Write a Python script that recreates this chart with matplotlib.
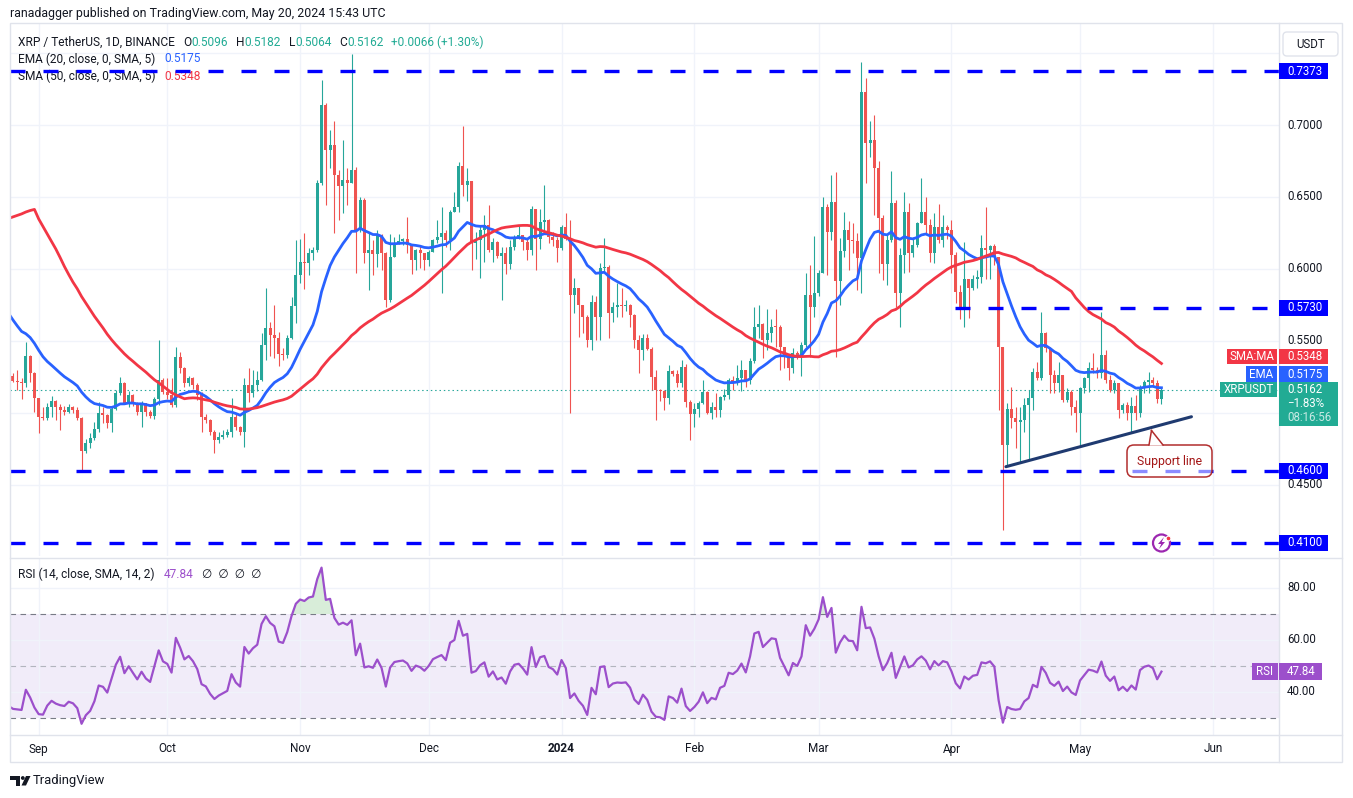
import numpy as np
import pandas as pd
import matplotlib
matplotlib.use("Agg")
import matplotlib.pyplot as plt
import matplotlib.dates as mdates
import matplotlib.transforms as mtransforms
from matplotlib.patches import Rectangle, Polygon, Circle, FancyBboxPatch

plt.rcParams['font.family'] = ['Roboto', 'DejaVu Sans']

W, H = 1353, 798
DARK = '#131722'
UP, DOWN = '#26A69A', '#EF5350'
EMA_C, SMA_C, RSI_C = '#2962FF', '#F23645', '#9C4FCB'
LEVEL_C = '#0000FF'
GRID = '#F0F3FA'
FRAME = '#E0E3EB'

# ---- data (XRP/USDT daily) ----
start_day = "2023-08-26"
first_open = 0.5258
closes = [
    0.5225, 0.5215, 0.5205, 0.5396, 0.5276, 0.5102, 0.4974, 0.4965, 0.5044, 0.5086,
    0.5044, 0.5021, 0.5010, 0.5040, 0.5021, 0.4963, 0.4739, 0.4795, 0.4823, 0.4886,
    0.4998, 0.4985, 0.4928, 0.5025, 0.5137, 0.5206, 0.5067, 0.5125, 0.5067, 0.5009,
    0.5067, 0.5009, 0.4979, 0.5095, 0.5230, 0.5145, 0.5125, 0.5055, 0.5391, 0.5310,
    0.5206, 0.5240, 0.5195, 0.5125, 0.4975, 0.4951, 0.4870, 0.4812, 0.4835, 0.4850,
    0.4865, 0.4975, 0.4905, 0.4870, 0.5195, 0.5142, 0.5195, 0.5230, 0.5475, 0.5590,
    0.5543, 0.5520, 0.5410, 0.5400, 0.5520, 0.5740, 0.5960, 0.6050, 0.6040, 0.6110,
    0.6130, 0.6595, 0.7138, 0.6826, 0.6860, 0.6653, 0.6575, 0.6618, 0.6595, 0.6687,
    0.6271, 0.6480, 0.6110, 0.6130, 0.6105, 0.6235, 0.6110, 0.5785, 0.6085, 0.6180,
    0.6195, 0.6205, 0.6165, 0.6060, 0.6130, 0.6110, 0.6065, 0.6120, 0.6200, 0.6225,
    0.6247, 0.6200, 0.6398, 0.6433, 0.6715, 0.6583, 0.6610, 0.6180, 0.6200, 0.6270,
    0.6305, 0.6132, 0.6190, 0.6090, 0.6110, 0.6035, 0.6155, 0.6225, 0.6235, 0.6190,
    0.6130, 0.6415, 0.6210, 0.6325, 0.6340, 0.6225, 0.6201, 0.6145, 0.6290, 0.6210,
    0.5820, 0.5865, 0.5750, 0.5670, 0.5507, 0.5773, 0.5670, 0.6005, 0.6015, 0.5692,
    0.5738, 0.5750, 0.5745, 0.5750, 0.5680, 0.5507, 0.5437, 0.5520, 0.5445, 0.5253,
    0.5160, 0.5150, 0.5105, 0.5293, 0.5270, 0.5206, 0.5322, 0.5074, 0.4993, 0.5025,
    0.5067, 0.5143, 0.4998, 0.5040, 0.5021, 0.5110, 0.5125, 0.5230, 0.5218, 0.5245,
    0.5300, 0.5230, 0.5360, 0.5600, 0.5620, 0.5507, 0.5553, 0.5600, 0.5595, 0.5460,
    0.5391, 0.5315, 0.5415, 0.5391, 0.5470, 0.5820, 0.5738, 0.5830, 0.5970, 0.6433,
    0.6255, 0.6463, 0.5920, 0.6125, 0.6270, 0.6201, 0.6195, 0.6075, 0.7232, 0.6873,
    0.6896, 0.6700, 0.6352, 0.6035, 0.6201, 0.6456, 0.5831, 0.6099, 0.6398, 0.6110,
    0.6166, 0.6317, 0.6398, 0.6305, 0.6110, 0.6294, 0.6201, 0.6294, 0.6270, 0.6097,
    0.5843, 0.5727, 0.5928, 0.5866, 0.5928, 0.5942, 0.6144, 0.6130, 0.6160, 0.6086,
    0.5461, 0.4778, 0.5026, 0.4963, 0.4940, 0.4951, 0.5056, 0.5102, 0.5288, 0.5241,
    0.5553, 0.5449, 0.5264, 0.5206, 0.5264, 0.5091, 0.5149, 0.5044, 0.4998, 0.5172,
    0.5241, 0.5311, 0.5299, 0.5276, 0.5403, 0.5230, 0.5160, 0.5206, 0.5021, 0.5056,
    0.4998, 0.5049, 0.4998, 0.5183, 0.5218, 0.5230, 0.5206, 0.5096, 0.5162,
]
highs = [
    0.5280, 0.5300, 0.5240, 0.5495, 0.5400, 0.5285, 0.5105, 0.5044, 0.5067, 0.5120,
    0.5090, 0.5060, 0.5050, 0.5060, 0.5050, 0.5040, 0.4970, 0.4820, 0.4860, 0.4935,
    0.5075, 0.5044, 0.4990, 0.5040, 0.5160, 0.5250, 0.5215, 0.5150, 0.5130, 0.5075,
    0.5085, 0.5070, 0.5020, 0.5110, 0.5507, 0.5240, 0.5240, 0.5240, 0.5460, 0.5425,
    0.5320, 0.5260, 0.5250, 0.5210, 0.5145, 0.4995, 0.4960, 0.4880, 0.4870, 0.4880,
    0.4890, 0.5102, 0.4990, 0.4910, 0.5240, 0.5310, 0.5300, 0.5290, 0.5553, 0.5865,
    0.5635, 0.5750, 0.5565, 0.5450, 0.5540, 0.5808, 0.6200, 0.6210, 0.6250, 0.6145,
    0.6155, 0.6620, 0.7312, 0.7150, 0.6965, 0.7030, 0.6690, 0.6896, 0.6700, 0.7495,
    0.6710, 0.6500, 0.6490, 0.6250, 0.6200, 0.6270, 0.6245, 0.6115, 0.6240, 0.6225,
    0.6245, 0.6215, 0.6360, 0.6175, 0.6140, 0.6165, 0.6090, 0.6130, 0.6210, 0.6340,
    0.6433, 0.6270, 0.6410, 0.6537, 0.6745, 0.6995, 0.6700, 0.6600, 0.6260, 0.6305,
    0.6375, 0.6445, 0.6215, 0.6195, 0.6155, 0.6155, 0.6200, 0.6235, 0.6305, 0.6235,
    0.6210, 0.6440, 0.6420, 0.6420, 0.6584, 0.6350, 0.6260, 0.6225, 0.6305, 0.6386,
    0.6340, 0.5935, 0.5870, 0.5750, 0.5680, 0.5820, 0.5810, 0.6040, 0.6213, 0.6030,
    0.5770, 0.5900, 0.5865, 0.5785, 0.5755, 0.5690, 0.5540, 0.5550, 0.5550, 0.5460,
    0.5300, 0.5165, 0.5160, 0.5335, 0.5300, 0.5300, 0.5368, 0.5340, 0.5090, 0.5070,
    0.5085, 0.5230, 0.5150, 0.5075, 0.5140, 0.5115, 0.5170, 0.5240, 0.5255, 0.5330,
    0.5368, 0.5300, 0.5380, 0.5738, 0.5750, 0.5625, 0.5725, 0.5650, 0.5725, 0.5610,
    0.5450, 0.5410, 0.5450, 0.5430, 0.5490, 0.5970, 0.6030, 0.6230, 0.5990, 0.6500,
    0.6450, 0.6653, 0.6676, 0.6213, 0.6398, 0.6330, 0.6317, 0.6250, 0.7440, 0.7325,
    0.7030, 0.7070, 0.6747, 0.6375, 0.6235, 0.6680, 0.6480, 0.6145, 0.6537, 0.6456,
    0.6224, 0.6328, 0.6630, 0.6503, 0.6350, 0.6386, 0.6449, 0.6375, 0.6305, 0.6340,
    0.6120, 0.5890, 0.6190, 0.5915, 0.5955, 0.5990, 0.6235, 0.6433, 0.6170, 0.6175,
    0.6080, 0.5450, 0.5067, 0.5183, 0.5044, 0.5044, 0.5102, 0.5160, 0.5311, 0.5357,
    0.5704, 0.5565, 0.5461, 0.5299, 0.5357, 0.5264, 0.5172, 0.5160, 0.5091, 0.5183,
    0.5253, 0.5357, 0.5415, 0.5322, 0.5704, 0.5438, 0.5264, 0.5230, 0.5206, 0.5067,
    0.5079, 0.5114, 0.5125, 0.5195, 0.5230, 0.5288, 0.5253, 0.5230, 0.5182,
]
lows = [
    0.5215, 0.5160, 0.5100, 0.5180, 0.5218, 0.5005, 0.4860, 0.4951, 0.4951, 0.4975,
    0.4950, 0.4880, 0.4985, 0.5000, 0.5000, 0.4950, 0.4593, 0.4720, 0.4755, 0.4810,
    0.4870, 0.4928, 0.4895, 0.4865, 0.5020, 0.5125, 0.5060, 0.5040, 0.5050, 0.4985,
    0.4906, 0.4980, 0.4965, 0.4955, 0.5055, 0.5130, 0.5100, 0.5040, 0.5040, 0.5280,
    0.5180, 0.5190, 0.5170, 0.5090, 0.4870, 0.4930, 0.4850, 0.4720, 0.4790, 0.4820,
    0.4830, 0.4830, 0.4880, 0.4850, 0.4765, 0.5075, 0.5110, 0.5155, 0.5220, 0.5365,
    0.5395, 0.5380, 0.5325, 0.5370, 0.5380, 0.5515, 0.5625, 0.5900, 0.5860, 0.5960,
    0.6060, 0.6120, 0.6580, 0.6445, 0.6700, 0.6248, 0.6340, 0.6387, 0.6445, 0.6595,
    0.5970, 0.6260, 0.6040, 0.5855, 0.5960, 0.6015, 0.5990, 0.5738, 0.5773, 0.6085,
    0.6175, 0.6170, 0.6110, 0.5965, 0.5990, 0.6010, 0.5990, 0.6020, 0.6120, 0.6180,
    0.5830, 0.6150, 0.6130, 0.6395, 0.6395, 0.6505, 0.6475, 0.5995, 0.6070, 0.5935,
    0.6050, 0.6120, 0.6050, 0.6075, 0.5785, 0.5965, 0.6000, 0.6130, 0.6210, 0.6130,
    0.6060, 0.6095, 0.5995, 0.6140, 0.6250, 0.6180, 0.6160, 0.6050, 0.6130, 0.6200,
    0.5000, 0.5693, 0.5530, 0.5553, 0.5460, 0.5440, 0.5507, 0.5507, 0.5985, 0.5520,
    0.5630, 0.5670, 0.5670, 0.5705, 0.5600, 0.5450, 0.5276, 0.5370, 0.5435, 0.5160,
    0.4951, 0.5080, 0.5020, 0.5060, 0.5255, 0.5184, 0.5184, 0.5040, 0.4813, 0.4900,
    0.4975, 0.5060, 0.4990, 0.4955, 0.4970, 0.4970, 0.5090, 0.5100, 0.5160, 0.5195,
    0.5150, 0.5184, 0.5200, 0.5350, 0.5520, 0.5380, 0.5440, 0.5490, 0.5460, 0.5300,
    0.5310, 0.5230, 0.5275, 0.5375, 0.5255, 0.5460, 0.5390, 0.5670, 0.5810, 0.5970,
    0.5955, 0.6200, 0.5391, 0.5750, 0.6080, 0.5995, 0.6110, 0.5855, 0.5830, 0.6595,
    0.6780, 0.6375, 0.5970, 0.5925, 0.5890, 0.6185, 0.5738, 0.5600, 0.5970, 0.5980,
    0.6085, 0.6150, 0.6340, 0.6250, 0.6050, 0.6040, 0.6180, 0.6150, 0.6210, 0.5970,
    0.5762, 0.5655, 0.5600, 0.5660, 0.5855, 0.5870, 0.5905, 0.5930, 0.5930, 0.6030,
    0.5020, 0.4188, 0.4639, 0.4893, 0.4755, 0.4662, 0.4870, 0.4674, 0.5021, 0.5230,
    0.5230, 0.5426, 0.5137, 0.5137, 0.5149, 0.5079, 0.5079, 0.4986, 0.4870, 0.4778,
    0.5137, 0.5149, 0.5276, 0.5241, 0.5241, 0.5206, 0.5149, 0.5137, 0.4963, 0.4998,
    0.4951, 0.4870, 0.4951, 0.4975, 0.5137, 0.5137, 0.5183, 0.5067, 0.5064,
]
# closes before the visible window (Jul 7 - Aug 25 2023), only feed EMA/SMA/RSI
warmup_closes = [
    0.472, 0.470, 0.468, 0.473, 0.476, 0.472, 0.830, 0.757, 0.772, 0.757,
    0.772, 0.797, 0.812, 0.782, 0.767, 0.727, 0.742, 0.707, 0.712, 0.717,
    0.702, 0.702, 0.712, 0.692, 0.687, 0.677, 0.667, 0.650, 0.630, 0.632,
    0.630, 0.620, 0.635, 0.640, 0.627, 0.630, 0.627, 0.620, 0.615, 0.600,
    0.585, 0.503, 0.510, 0.520, 0.530, 0.525, 0.515, 0.535, 0.530, 0.528,
]

levels = [0.7373, 0.5730, 0.4600, 0.4100]
level_start_day = [None, 219.8, None, None]     # days after start_day
support_days = [231.7, 275.0]
support_prices = [0.4627, 0.4974]
ema_text, sma_text, rsi_text = "0.5175", "0.5348", "47.84"
change_pct_text = "\u22121.83%"
countdown_text = "08:16:56"

# ---- derived series ----
closes = np.array(closes)
opens = np.r_[first_open, closes[:-1]]
highs = np.maximum(np.array(highs), np.maximum(opens, closes))
lows = np.minimum(np.array(lows), np.minimum(opens, closes))
x0 = mdates.date2num(pd.Timestamp(start_day))
xs = x0 + np.arange(len(closes))

n_w = len(warmup_closes)
s = pd.Series(np.r_[warmup_closes, closes])
ema = s.ewm(span=20, adjust=False).mean().to_numpy()
sma = s.rolling(50).mean().to_numpy()
d = s.diff().fillna(0)
g = d.clip(lower=0).ewm(alpha=1 / 14, adjust=False).mean()
l = (-d).clip(lower=0).ewm(alpha=1 / 14, adjust=False).mean()
rsi = (100 - 100 / (1 + g / l)).to_numpy()
x_all = x0 + np.arange(-n_w, len(closes))
sl = slice(n_w - 1, None)

# ---- figure ----
fig = plt.figure(figsize=(W / 100, H / 100), dpi=100)
ID = mtransforms.IdentityTransform()


def Y(y):
    return H - y


ax = fig.add_axes([10 / W, 1 - 556 / H, 1269 / W, 532 / H])
ax_r = fig.add_axes([10 / W, 1 - 735 / H, 1269 / W, 176 / H])
for a in (ax, ax_r):
    a.set_xlim(x0 - 0.70, x0 + 295.43)
    a.axis('off')
ax.set_ylim(0.40069, 0.77014)
ax_r.set_ylim(23.46, 91.15)

months = pd.date_range("2023-09-01", "2024-06-01", freq="MS")
for m in months:
    for a in (ax, ax_r):
        a.axvline(mdates.date2num(m), color=GRID, lw=1, zorder=0.5)
for p in np.arange(0.45, 0.76, 0.05):
    ax.axhline(p, color=GRID, lw=1, zorder=0.5)

# candles
colors = np.where(closes >= opens, UP, DOWN)
ax.vlines(xs, lows, highs, colors=colors, lw=0.8, zorder=2)
ax.bar(xs, np.maximum(np.abs(closes - opens), 0.0007), bottom=np.minimum(opens, closes),
       width=0.7, color=colors, linewidth=0, zorder=3)

ax.plot(x_all[sl], ema[sl], color=EMA_C, lw=2.0, zorder=4)
ax.plot(x_all[sl], sma[sl], color=SMA_C, lw=2.0, zorder=4)
ax.axhline(closes[-1], color=UP, lw=0.8, ls=(0, (1.3, 2.6)), zorder=1.5)

# drawn levels and support line
for lev, st in zip(levels, level_start_day):
    xa = x0 - 0.70 if st is None else x0 + st
    ax.plot([xa, x0 + 295.43], [lev, lev], color=LEVEL_C, lw=2.4,
            ls=(0, (4.5, 5.4)), dash_capstyle='butt', zorder=6)
ax.plot([x0 + support_days[0], x0 + support_days[1]], support_prices,
        color='#1F3A70', lw=2.2, solid_capstyle='round', zorder=6)

# RSI pane
ax_r.axhspan(30, 70, color='#F1ECF9', lw=0, zorder=0.2)
for v in (40, 60, 80):
    ax_r.axhline(v, color=GRID, lw=1, zorder=0.5)
ax_r.axhline(70, color='#787B86', lw=0.8, ls=(0, (5, 4)), zorder=1)
ax_r.axhline(30, color='#787B86', lw=0.8, ls=(0, (5, 4)), zorder=1)
ax_r.axhline(50, color='#B2B5BE', lw=0.8, ls=(0, (5, 4)), zorder=1)
xr, rr = x_all[sl], rsi[sl]
ax_r.fill_between(xr, 70, rr, where=rr >= 70, interpolate=True, color='#C8E6C9', alpha=0.7, lw=0, zorder=1.2)
ax_r.fill_between(xr, 30, rr, where=rr <= 30, interpolate=True, color='#FFCDD2', alpha=0.7, lw=0, zorder=1.2)
ax_r.plot(xr, rr, color=RSI_C, lw=1.6, zorder=3)

# ---- frame ----
fig.add_artist(Rectangle((10, Y(762)), 1332, 739, transform=ID, fc='none', ec=FRAME, lw=1, zorder=1))
for (xa, ya, xb, yb) in [(1279, 23, 1279, 762), (10, 735, 1342, 735), (10, 557.5, 1342, 557.5)]:
    fig.add_artist(plt.Line2D([xa, xb], [Y(ya), Y(yb)], transform=ID, color=FRAME, lw=1, zorder=1))

renderer = fig.canvas.get_renderer()


def runs(target, x, y, parts, size=8.6, z=5):
    for text, color, gap in parts:
        t = target.text(x, Y(y), text, transform=ID, color=color, fontsize=size,
                        va='center', ha='left', zorder=z, clip_on=False)
        x += t.get_window_extent(renderer).width + gap


fig.text(10, Y(14), "ranadagger published on TradingView.com, May 20, 2024 15:43 UTC",
         transform=ID, color=DARK, fontsize=8.9, va='center')

teal = '#22AB94'
o, hh, ll, c = opens[-1], highs[-1], lows[-1], closes[-1]
chg = c - closes[-2]
runs(ax, 18, 42, [("XRP / TetherUS, 1D, BINANCE", DARK, 8), ("O", DARK, 0), (f"{o:.4f}", teal, 8),
                  ("H", DARK, 0), (f"{hh:.4f}", teal, 8), ("L", DARK, 0), (f"{ll:.4f}", teal, 8),
                  ("C", DARK, 0), (f"{c:.4f}", teal, 8),
                  (f"{chg:+.4f} ({chg / closes[-2] * 100:+.2f}%)", teal, 0)])
runs(ax, 18, 59, [("EMA (20, close, 0, SMA, 5)", DARK, 9), (ema_text, EMA_C, 0)])
runs(ax, 18, 76, [("SMA (50, close, 0, SMA, 5)", DARK, 9), (sma_text, SMA_C, 0)])
runs(ax_r, 18, 574, [("RSI (14, close, SMA, 14, 2)", DARK, 9), (rsi_text, RSI_C, 9),
                     ("\u2205  \u2205  \u2205  \u2205", DARK, 0)])

# price scale
px_tr = mtransforms.blended_transform_factory(ID, ax.transData)
for p in (0.45, 0.55, 0.60, 0.65, 0.70):
    ax.text(1287, p, f"{p:.4f}", transform=px_tr, color=DARK, fontsize=8.3, va='center', clip_on=False)
rx_tr = mtransforms.blended_transform_factory(ID, ax_r.transData)
for v in (40, 60, 80):
    ax_r.text(1287, v, f"{v:.2f}", transform=rx_tr, color=DARK, fontsize=8.3, va='center', clip_on=False)

fig.add_artist(FancyBboxPatch((1283, Y(56)), 55, 24, boxstyle='round,pad=0,rounding_size=4',
                              transform=ID, fc='white', ec=FRAME, lw=1, zorder=4))
fig.text(1310.5, Y(44), "USDT", transform=ID, color=DARK, fontsize=8.3, ha='center', va='center', zorder=5)


def py(a, v):
    return H - a.transData.transform((x0, v))[1]


def box(xa, xb, yc, h, color, top=None):
    yt = yc - h / 2 if top is None else top
    fig.add_artist(Rectangle((xa, Y(yt + h)), xb - xa, h, transform=ID, fc=color, ec='none', zorder=4))


def tag(x, yc, text, color='white', ha='left', alpha=1.0):
    fig.text(x, Y(yc), text, transform=ID, color=color, fontsize=8.3, ha=ha, va='center',
             zorder=5, alpha=alpha)


for lev in levels:
    yc = py(ax, lev)
    box(1279, 1328, yc, 16, LEVEL_C)
    tag(1287, yc, f"{lev:.4f}")

y_last = py(ax, closes[-1])
y_ema = min(py(ax, float(ema_text)), y_last - 15.5)
y_sma = min(py(ax, float(sma_text)), y_ema - 17.5)
box(1220, 1277, y_last, 15.5, teal)
tag(1248.5, y_last, "XRPUSDT", ha='center')
box(1279, 1338, 0, 44, teal, top=y_last - 7.5)
tag(1287, y_last, f"{closes[-1]:.4f}")
tag(1287, y_last + 14, change_pct_text)
tag(1287, y_last + 28, countdown_text, alpha=0.75)
box(1246, 1277, y_ema, 15.5, EMA_C)
tag(1261.5, y_ema, "EMA", ha='center')
box(1279, 1328, y_ema, 15.5, EMA_C)
tag(1287, y_ema, ema_text)
box(1227, 1277, y_sma, 15.5, SMA_C)
tag(1252, y_sma, "SMA:MA", ha='center')
box(1279, 1328, y_sma, 15.5, SMA_C)
tag(1287, y_sma, sma_text)

y_rsi = py(ax_r, float(rsi_text))
box(1252, 1277.5, y_rsi, 16.5, RSI_C)
tag(1264.7, y_rsi, "RSI", ha='center')
box(1279, 1322, y_rsi, 16.5, RSI_C)
tag(1287, y_rsi, rsi_text)

# time scale
tx_tr = mtransforms.blended_transform_factory(ax_r.transData, ID)
for m in months:
    lab = str(m.year) if m.month == 1 else m.strftime('%b')
    ax_r.text(mdates.date2num(m), Y(749), lab, transform=tx_tr, color=DARK, fontsize=8.5,
              ha='center', va='center', fontweight='bold' if m.month == 1 else 'normal', clip_on=False)

# support line callout
fig.add_artist(FancyBboxPatch((1127, Y(477)), 85, 32, boxstyle='round,pad=0,rounding_size=7',
                              transform=ID, fc=(1, 1, 1, 0.55), ec='#B22E2E', lw=1.1, zorder=6))
fig.add_artist(Polygon([(1151.5, Y(430.5)), (1149, Y(445.6)), (1163, Y(445.6))], closed=True,
                       transform=ID, fc='white', ec='none', zorder=6.5))
for bx in (1149, 1163):
    fig.add_artist(plt.Line2D([1151.5, bx], [Y(430.5), Y(445)], transform=ID, color='#B22E2E',
                              lw=1.1, zorder=6.6))
fig.text(1169.5, Y(461), "Support line", transform=ID, color='#A31515', fontsize=8.8,
         ha='center', va='center', zorder=7)

# replay/lightning icon
fig.add_artist(Circle((1161.5, Y(543)), 8.5, transform=ID, fc='white', ec='#9C27B0', lw=1.6, zorder=6))
bolt = [(2.5, -6), (-3.5, 1), (-0.3, 1), (-2.5, 6), (3.5, -1), (0.3, -1)]
fig.add_artist(Polygon([(1161.5 + bx, Y(543 + by)) for bx, by in bolt], closed=True,
                       transform=ID, fc='#9C27B0', ec='none', zorder=6.5))
fig.add_artist(Circle((1168.5, Y(538.5)), 2.4, transform=ID, fc='#F23645', ec='white', lw=0.8, zorder=7))

# footer logo
fig.add_artist(Rectangle((10, Y(779.5)), 10, 3.5, transform=ID, fc=DARK, ec='none'))
fig.add_artist(Rectangle((15.5, Y(785.5)), 4.5, 9.5, transform=ID, fc=DARK, ec='none'))
fig.add_artist(Circle((22.8, Y(778)), 1.9, transform=ID, fc=DARK, ec='none'))
fig.add_artist(Polygon([(21.5, Y(785.5)), (26, Y(785.5)), (30.5, Y(776)), (26, Y(776))],
                       closed=True, transform=ID, fc=DARK, ec='none'))
fig.text(33, Y(780.5), "TradingView", transform=ID, color=DARK, fontsize=9.4, va='center')

fig.savefig("out.png", dpi=100, facecolor='white')
